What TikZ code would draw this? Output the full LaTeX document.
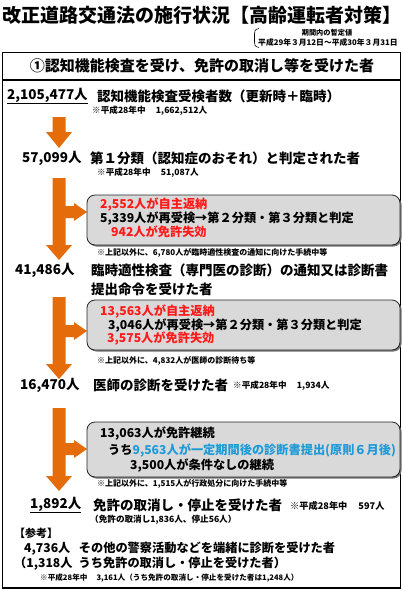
\documentclass[tikz,border=0pt]{standalone}
\usepackage{fontspec}
\setmainfont{Noto Sans CJK JP}
\definecolor{orng}{HTML}{E46C0A}
\definecolor{rd}{HTML}{FF1A1A}
\definecolor{bl}{HTML}{1F9BD8}
\definecolor{boxgray}{HTML}{D9D9D9}
\tikzset{
  lt/.style={anchor=west, inner sep=0pt, font=\bfseries\fontsize{13.5}{15}\selectfont},
  bt/.style={anchor=west, inner sep=0pt, font=\bfseries\fontsize{12.2}{14}\selectfont},
  st/.style={anchor=west, inner sep=0pt, font=\bfseries\fontsize{8.6}{10}\selectfont},
  nt/.style={anchor=west, inner sep=0pt, font=\bfseries\fontsize{8}{9}\selectfont},
  rt/.style={anchor=west, inner sep=0pt, font=\bfseries\fontsize{12.2}{14}\selectfont},
  graybox/.style={draw=black!85, line width=0.8pt, fill=boxgray, rounded corners=8pt},
  boxshadow/.style={fill=black!55, draw=none, rounded corners=8pt},
  arr/.style={fill=orng, draw=none},
}
\begin{document}
\begin{tikzpicture}[x=1pt,y=-1pt]
\useasboundingbox (0,0) rectangle (403,590);
\fill[white] (0,0) rectangle (403,590);
% title
\node[inner sep=0pt, font=\bfseries\fontsize{19}{21}\selectfont] (title) at (202,15) {改正道路交通法の施行状況【高齢運転者対策】};
% bracket and period
\draw[line width=0.6pt] (259,28.5) .. controls (254.5,29.5) and (254.5,31) .. (254.5,34) -- (254.5,42) .. controls (254.5,45) and (254.5,46.5) .. (259,47.5);
\node[inner sep=0pt, font=\bfseries\fontsize{7.2}{8}\selectfont] (per1) at (327,33) {期間内の暫定値};
\node[anchor=west, inner sep=0pt, font=\bfseries\fontsize{7.8}{9}\selectfont] (per2) at (258,43) {平成29年３月12日～平成30年３月31日};
% frame
\draw[line width=1.3pt] (2.5,52.5) rectangle (400.5,588);
\draw[line width=1.1pt] (2.5,80) -- (400.5,80);
\node[inner sep=0pt, font=\bfseries\fontsize{15}{17}\selectfont] (head) at (202,66) {①認知機能検査を受け、免許の取消し等を受けた者};
% row 1
\node[lt] (n1) at (7,96) {\underline{2,105,477人}};
\node[lt] (d1) at (97,96) {認知機能検査受検者数（更新時＋臨時）};
\node[st] (s1) at (92,111) {※平成28年中\hspace{1.2em}1,662,512人};
% arrow 1
\fill[arr] (52.5,117) -- (65.5,117) -- (65.5,132) -- (72,132) -- (59,148) -- (46,132) -- (52.5,132) -- cycle;
% row 2
\node[lt] (n2) at (22,158) {57,099人};
\node[lt] (d2) at (90,158) {第１分類（認知症のおそれ）と判定された者};
\node[st] (s2) at (97,173) {※平成28年中\hspace{1.2em}51,087人};
% arrow 2
\fill[arr] (52.5,178) -- (65.5,178) -- (65.5,206) -- (74,206) -- (74,203) -- (87,212) -- (74,221) -- (74,218) -- (65.5,218) -- (65.5,245) -- (72,245) -- (59,260) -- (46,245) -- (52.5,245) -- cycle;
% box 1
\fill[boxshadow] (88.5,196.5) rectangle (401.5,246.5);
\draw[graybox] (87,195) rectangle (400,245);
\node[bt, text=rd] (b1a) at (100,205) {2,552人が自主返納};
\node[bt] (b1b) at (100,218.5) {5,339人が再受検→第２分類・第３分類と判定};
\node[bt, text=rd] (b1c) at (111,232) {942人が免許失効};
\node[nt] (note1) at (97,253) {※上記以外に、6,780人が臨時適性検査の通知に向けた手続中等};
% row 3
\node[lt] (n3) at (15,270) {41,486人};
\node[lt] (d3) at (91,270) {臨時適性検査（専門医の診断）の通知又は診断書};
\node[lt] (d3b) at (91,289) {提出命令を受けた者};
% arrow 3
\fill[arr] (52.5,297) -- (65.5,297) -- (65.5,325) -- (74,325) -- (74,322) -- (87,331) -- (74,340) -- (74,337) -- (65.5,337) -- (65.5,364) -- (72,364) -- (59,379) -- (46,364) -- (52.5,364) -- cycle;
% box 2
\fill[boxshadow] (88.5,301.5) rectangle (401.5,351.5);
\draw[graybox] (87,300) rectangle (400,350);
\node[bt, text=rd] (b2a) at (100,312) {13,563人が自主返納};
\node[bt] (b2b) at (108,325.5) {3,046人が再受検→第２分類・第３分類と判定};
\node[bt, text=rd] (b2c) at (107,339) {3,575人が免許失効};
\node[nt] (note2) at (97,361) {※上記以外に、4,832人が医師の診断待ち等};
% row 4
\node[lt] (n4) at (20,385) {16,470人};
\node[lt] (d4) at (93,385) {医師の診断を受けた者};
\node[st] (s4) at (233,386) {※平成28年中\hspace{1.2em}1,934人};
% arrow 4
\fill[arr] (52.5,408) -- (65.5,408) -- (65.5,443) -- (74,443) -- (74,440) -- (87,449) -- (74,458) -- (74,455) -- (65.5,455) -- (65.5,476) -- (72,476) -- (59,491) -- (46,476) -- (52.5,476) -- cycle;
% box 3
\fill[boxshadow] (88.5,423.5) rectangle (401.5,478.5);
\draw[graybox] (87,422) rectangle (400,477);
\node[bt] (b3a) at (100,434) {13,063人が免許継続};
\node[bt] (b3b) at (108,450.5) {うち\textcolor{bl}{9,563人が一定期間後の診断書提出(原則６月後)}};
\node[bt] (b3c) at (130,466) {3,500人が条件なしの継続};
\node[nt] (note3) at (97,484) {※上記以外に、1,515人が行政処分に向けた手続中等};
% row 5
\node[lt] (n5) at (30,505) {\underline{1,892人}};
\node[lt] (d5) at (93,505) {免許の取消し・停止を受けた者};
\node[anchor=west, inner sep=0pt, font=\bfseries\fontsize{9.2}{10}\selectfont] (s5) at (290,506) {※平成28年中\hspace{1.2em}597人};
\node[st] (s5b) at (90,520) {（免許の取消し1,836人、停止56人）};
% reference
\node[anchor=west, inner sep=0pt, font=\bfseries\fontsize{11}{12}\selectfont] (ref) at (14,533) {【参考】};
\node[rt] (r1) at (24,549) {4,736人\hspace{0.7em}その他の警察活動などを端緒に診断を受けた者};
\node[rt] (r2) at (14,564) {（1,318人\hspace{0.5em}うち免許の取消し・停止を受けた者）};
\node[anchor=west, inner sep=0pt, font=\bfseries\fontsize{7.6}{9}\selectfont] (r3) at (40,578) {※平成28年中\hspace{1.2em}3,161人（うち免許の取消し・停止を受けた者は1,248人）};
\end{tikzpicture}
\end{document}
